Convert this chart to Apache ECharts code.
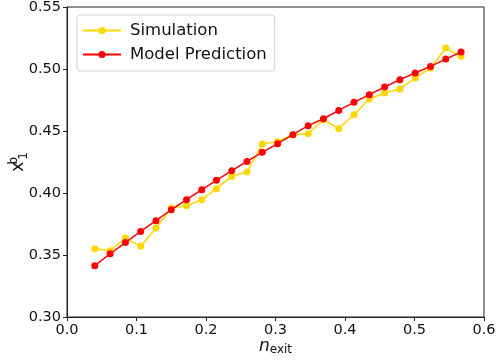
<!DOCTYPE html>
<html>
<head>
<meta charset="utf-8">
<script src="https://cdn.jsdelivr.net/npm/echarts@6/dist/echarts.min.js"></script>
<style>
  html, body { margin: 0; padding: 0; background: #fff; }
  #chart { width: 496px; height: 364px; }
</style>
</head>
<body>
<div id="chart"></div>
<script>
// n_exit 取值
const nExit = [0.040, 0.062, 0.084, 0.106, 0.128, 0.150, 0.172, 0.194, 0.215, 0.237,
  0.259, 0.281, 0.303, 0.325, 0.347, 0.369, 0.391, 0.413, 0.435, 0.457,
  0.479, 0.501, 0.523, 0.545, 0.567]
const simulation = [0.355, 0.3535, 0.3637, 0.357, 0.3718, 0.3879, 0.3898, 0.3946, 0.4035, 0.4134,
  0.417, 0.4395, 0.4416, 0.447, 0.4478, 0.4591, 0.4519, 0.4631, 0.4758, 0.4806,
  0.4839, 0.4927, 0.5008, 0.5169, 0.5102]
const modelPrediction = [0.3414, 0.351, 0.360, 0.369, 0.3777, 0.3865, 0.3946, 0.4027, 0.4102, 0.418,
  0.4255, 0.4328, 0.4398, 0.447, 0.4543, 0.4599, 0.4666, 0.4731, 0.4793, 0.4855,
  0.4914, 0.4968, 0.5021, 0.508, 0.5137]

const font = 'DejaVu Sans'
const pairs = (ys) => ys.map((y, i) => [nExit[i], y])

const chart = echarts.init(document.getElementById('chart'), null, { renderer: 'canvas' })

const option = {
  animation: false,
  backgroundColor: '#fff',
  textStyle: { fontFamily: font },
  grid: {
    left: 67,
    right: 12,
    top: 7,
    bottom: 47,
    outerBoundsMode: 'none',
    containLabel: false,
    show: true,
    borderColor: '#222',
    borderWidth: 1,
    backgroundColor: 'transparent',
  },
  legend: {
    orient: 'vertical',
    left: 77,
    top: 15,
    padding: [7, 8, 8, 5],
    itemWidth: 38,
    itemHeight: 9,
    itemGap: 7,
    borderColor: '#d0d0d0',
    borderWidth: 1,
    borderRadius: 3,
    backgroundColor: 'rgba(255,255,255,0.8)',
    textStyle: { fontFamily: font, fontSize: 16.5, color: '#111', padding: [0, 0, 0, 4] },
    data: ['Simulation', 'Model Prediction'],
  },
  xAxis: {
    type: 'value',
    min: 0,
    max: 0.6,
    interval: 0.1,
    name: '{n|n}{s|exit}',
    nameLocation: 'middle',
    nameGap: 21,
    nameMoveOverlap: false,
    nameTextStyle: {
      rich: {
        n: { fontFamily: font, fontSize: 17, fontStyle: 'italic', color: '#111', verticalAlign: 'top', lineHeight: 18 },
        s: { fontFamily: font, fontSize: 12, color: '#111', verticalAlign: 'bottom', lineHeight: 12, padding: [12, 0, 0, 0] },
      },
    },
    axisLine: { show: true, lineStyle: { color: '#222', width: 1 } },
    axisTick: { show: true, length: 4, inside: false, lineStyle: { color: '#222' } },
    axisLabel: {
      fontFamily: font, fontSize: 14.5, color: '#111', margin: 6,
      formatter: (v) => v.toFixed(1),
    },
    splitLine: { show: false },
  },
  yAxis: {
    type: 'value',
    min: 0.3,
    max: 0.55,
    interval: 0.05,
    name: '{x|x}{b|b}{o|1}',
    nameLocation: 'middle',
    nameGap: 37,
    nameRotate: 90,
    nameMoveOverlap: false,
    nameTextStyle: {
      rich: {
        x: { fontFamily: font, fontSize: 17, color: '#111', verticalAlign: 'middle', lineHeight: 22 },
        b: { fontFamily: font, fontSize: 12, color: '#111', verticalAlign: 'top', lineHeight: 12, width: 0, padding: [0, 0, 12, 1] },
        o: { fontFamily: font, fontSize: 12, color: '#111', verticalAlign: 'bottom', lineHeight: 12, padding: [12, 0, 0, 1] },
      },
    },
    axisLine: { show: true, lineStyle: { color: '#222', width: 1 } },
    axisTick: { show: true, length: 4, inside: false, lineStyle: { color: '#222' } },
    axisLabel: {
      fontFamily: font, fontSize: 14.5, color: '#111', margin: 6,
      formatter: (v) => v.toFixed(2),
    },
    splitLine: { show: false },
  },
  series: [
    {
      name: 'Simulation',
      type: 'line',
      data: pairs(simulation),
      symbol: 'circle',
      symbolSize: 7,
      showSymbol: true,
      itemStyle: { color: '#FFD700' },
      lineStyle: { color: '#FFD700', width: 1.5 },
      z: 2,
    },
    {
      name: 'Model Prediction',
      type: 'line',
      data: pairs(modelPrediction),
      symbol: 'circle',
      symbolSize: 7,
      showSymbol: true,
      itemStyle: { color: '#FF0000' },
      lineStyle: { color: '#FF0000', width: 1.5 },
      z: 3,
    },
  ],
}

chart.setOption(option)
</script>
</body>
</html>
